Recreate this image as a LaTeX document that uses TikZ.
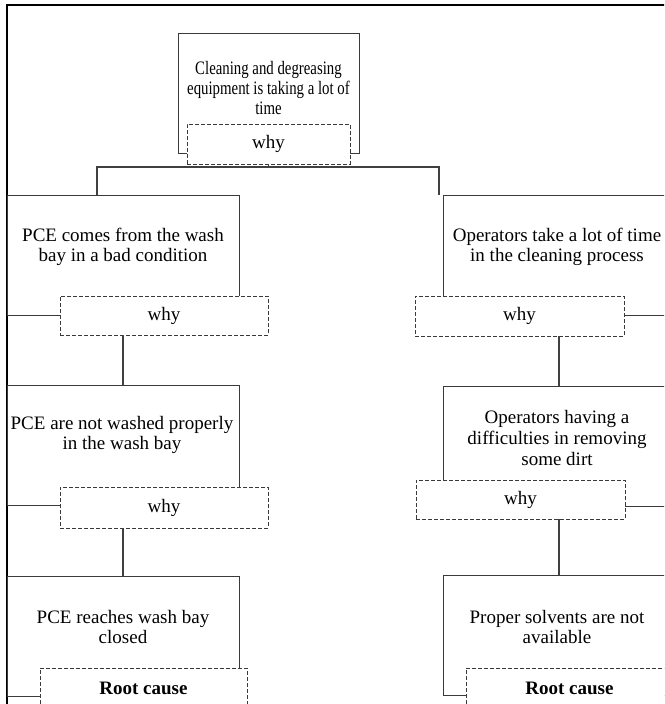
\documentclass[tikz,border=0pt]{standalone}
\usepackage{fontspec}
\setmainfont{Liberation Serif}
\definecolor{boxgray}{HTML}{3A3A3A}
\definecolor{linegray}{HTML}{404040}
\begin{document}
\begin{tikzpicture}[x=1pt,y=-1pt,
  box/.style={draw=boxgray, line width=1pt, minimum width=232pt, minimum height=120pt, inner sep=0pt},
  topbox/.style={draw=boxgray, line width=1pt, minimum width=181pt, minimum height=120pt, inner sep=0pt},
  whybox/.style={draw=boxgray, line width=0.9pt, dash pattern=on 4pt off 2pt, fill=white, minimum height=40pt, inner sep=0pt, font=\fontsize{19}{20.7}\selectfont},
  txt/.style={align=center, inner sep=0pt, font=\fontsize{19}{20.7}\selectfont},
  conn/.style={draw=linegray, line width=1.8pt},
  frame/.style={draw=black, line width=2.3pt}]
\clip (0,0) rectangle (664,704);
\useasboundingbox (0,0) rectangle (664,704);
\draw[frame] (7,5) rectangle (720,760);
% boxes
\node[topbox] (b0) at (268.5,93) {};
\node[box] (l1) at (123,255.5) {};
\node[box] (l2) at (123,445) {};
\node[box] (l3) at (123,636) {};
\node[box] (r1) at (559,255) {};
\node[box] (r2) at (559,446) {};
\node[box] (r3) at (559,635) {};
% why boxes
\node[whybox, minimum width=163pt] (w0) at (268.5,144) {why};
\node[whybox, minimum width=208pt, minimum height=39pt] (wl1) at (164,315.5) {why};
\node[whybox, minimum width=208pt, minimum height=41pt] (wl2) at (164,507.5) {why};
\node[whybox, minimum width=209pt] (wr1) at (519.5,316) {why};
\node[whybox, minimum width=209pt, minimum height=39pt] (wr2) at (520.5,499.5) {why};
\node[whybox, minimum width=207pt, font=\fontsize{19}{20.7}\selectfont\bfseries] (rl) at (143.5,688) {Root cause};
\node[whybox, minimum width=207pt, font=\fontsize{19}{20.7}\selectfont\bfseries] (rr) at (569.5,688) {Root cause};
% connectors
\coordinate (cl) at (97,167);
\coordinate (cr) at (439,167);
\draw[conn] (w0.south) -- (w0.south |- cl);
\draw[conn] (cl |- l1.north) -- (cl) -- (cr) -- (cr |- r1.north);
\draw[conn] (l2.north |- wl1.south) -- (l2.north);
\draw[conn] (l3.north |- wl2.south) -- (l3.north);
\draw[conn] (r2.north |- wr1.south) -- (r2.north);
\draw[conn] (r3.north |- wr2.south) -- (r3.north);
% texts
\node[txt, font=\fontsize{19}{19.7}\selectfont\addfontfeature{FakeStretch=0.78}] (t0) at (268.5,88) {Cleaning and degreasing\\equipment is taking a lot of\\time};
\node[txt] (tl1) at (123,247) {PCE comes from the wash\\bay in a bad condition};
\node[txt] (tl2) at (122,435) {PCE are not washed properly\\in the wash bay};
\node[txt] (tl3) at (123,627) {PCE reaches wash bay\\closed};
\node[txt] (tr1) at (557,247) {Operators take a lot of time\\in the cleaning process};
\node[txt] (tr2) at (557,438) {Operators having a\\difficulties in removing\\some dirt};
\node[txt] (tr3) at (557,627) {Proper solvents are not\\available};
\end{tikzpicture}
\end{document}
